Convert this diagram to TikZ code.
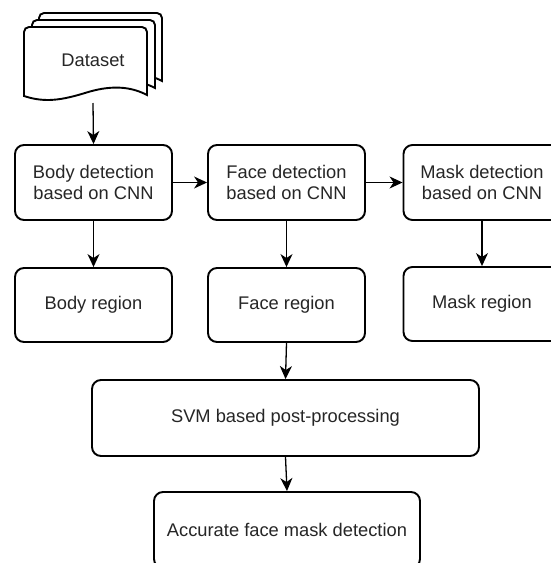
\documentclass[tikz,border=0pt]{standalone}
\usepackage{fontspec}
\setmainfont{Liberation Sans}
\usetikzlibrary{arrows.meta}
\begin{document}
\begin{tikzpicture}[x=1pt,y=-1pt,
  box/.style={draw=black, line width=1.9pt, rounded corners=9pt, fill=white,
    text=black!85, align=center, font=\fontsize{18.3}{20.5}\selectfont, inner sep=0pt},
  conn/.style={line width=1.3pt, -{Stealth[length=13pt,width=12pt,inset=4pt]}},
  page/.style={draw=black, line width=1.9pt, fill=white, rounded corners=5pt}]
\useasboundingbox (0,0) rectangle (551,563);
% dataset stack
\foreach \dx/\dy in {15/-14, 8/-7, 0/0}{
  \begin{scope}[shift={(\dx,\dy)}]
    \draw[page] (24,96) -- (24,27) -- (147,27) [sharp corners] -- (147,95)
      .. controls (130,86) and (110,85) .. (85,93)
      .. controls (62,100) and (45,103) .. (24,96) -- cycle;
  \end{scope}
}
\node[font=\fontsize{18.3}{20.5}\selectfont, text=black!85] (dataset) at (93,60) {Dataset};
\coordinate (dsbot) at (93,103);
% boxes
\node[box, minimum width=157pt, minimum height=75pt] (body) at (93.5,182.5) {Body detection\\based on CNN};
\node[box, minimum width=157pt, minimum height=75pt] (face) at (286.5,182.5) {Face detection\\based on CNN};
\node[box, minimum width=157pt, minimum height=75pt] (mask) at (482,182.5) {Mask detection\\based on CNN};
\node[box, minimum width=157pt, minimum height=74pt] (bodyr) at (93.5,305) {Body region};
\node[box, minimum width=157pt, minimum height=74pt] (facer) at (286.5,305) {Face region};
\node[box, minimum width=157pt, minimum height=74pt] (maskr) at (482,304) {Mask region};
\node[box, minimum width=387pt, minimum height=76pt] (svm) at (285.5,418) {SVM based post-processing};
\node[box, minimum width=266pt, minimum height=76pt] (acc) at (287,530) {Accurate face mask detection};
% connectors
\draw[conn] (dsbot) -- (body.north);
\draw[conn] (body.east) -- (face.west);
\draw[conn] (face.east) -- (mask.west);
\draw[conn] (body.south) -- (bodyr.north);
\draw[conn] (face.south) -- (facer.north);
\draw[conn] (mask.south) -- (maskr.north);
\draw[conn] (facer.south) -- (svm.north);
\draw[conn] (svm.south) -- (acc.north);
\end{tikzpicture}
\end{document}
